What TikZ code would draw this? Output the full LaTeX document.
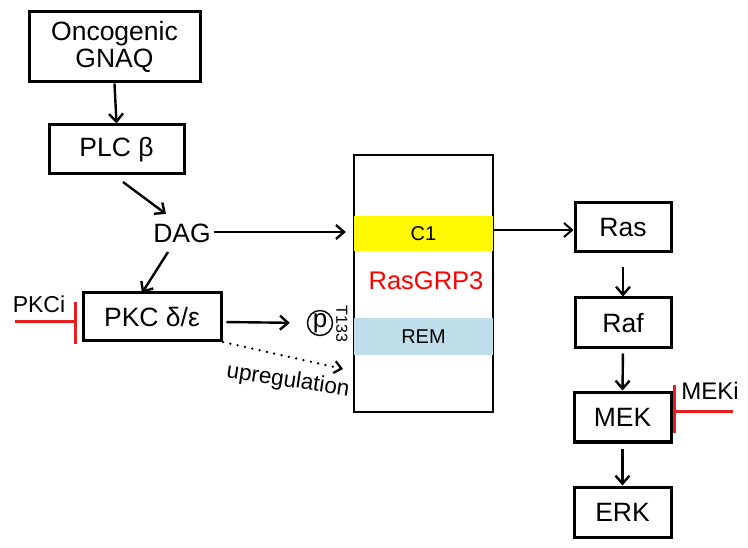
\documentclass[tikz,border=0pt]{standalone}
\usepackage{fontspec}
\setmainfont{Liberation Sans}
\usetikzlibrary{arrows.meta}
\definecolor{remblue}{RGB}{190,223,234}
\definecolor{cyel}{RGB}{255,250,0}
\definecolor{inhred}{RGB}{232,30,30}
\begin{document}
\begin{tikzpicture}[x=1pt,y=-1pt,
  pbox/.style={draw=black,line width=3pt,inner sep=0pt,font=\fontsize{26.5}{30}\selectfont,align=center},
  arr/.style={line width=2.4pt,-{Straight Barb[length=8pt,width=14pt,line width=2.4pt]}},
  inh/.style={draw=inhred,line width=3pt},
  band/.style={inner sep=0pt,minimum width=139pt,font=\fontsize{20}{22}\selectfont}]
\useasboundingbox (0,0) rectangle (748,548);
% left column
\node[pbox,minimum width=171pt,minimum height=70pt] (gnaq) at (114.5,47) {Oncogenic\\[-3pt]GNAQ};
\node[pbox,minimum width=135pt,minimum height=49pt] (plc) at (116.5,149.5) {PLC β};
\node[font=\fontsize{26.5}{30}\selectfont,inner sep=0pt] (dag) at (182,233) {DAG};
\node[pbox,minimum width=138pt,minimum height=48pt] (pkc) at (152,317) {PKC δ/ε};
% RasGRP3
\node[draw=black,line width=1.4pt,minimum width=139pt,minimum height=257pt,inner sep=0pt] (grp) at (423.5,283.5) {};
\node[band,fill=cyel,minimum height=35pt] (c1) at (423.5,233.5) {C1};
\node[band,fill=remblue,minimum height=37pt] (rem) at (423.5,336.5) {REM};
\node[text=red,font=\fontsize{25.5}{28}\selectfont,inner sep=0pt] (rgtxt) at (426,281) {RasGRP3};
% right column
\node[pbox,minimum width=96pt,minimum height=49pt] (ras) at (623,227.5) {Ras};
\node[pbox,minimum width=96pt,minimum height=50pt] (raf) at (623,323) {Raf};
\node[pbox,minimum width=97pt,minimum height=49pt] (mek) at (622.5,417.5) {MEK};
\node[pbox,minimum width=97pt,minimum height=50pt] (erk) at (622.5,512) {ERK};
% phospho
\node[draw=black,line width=1.4pt,circle,minimum size=25pt,inner sep=0pt,font=\fontsize{26}{26}\selectfont] (p) at (320,323) {\raisebox{2pt}{p}};
\node[rotate=-90,font=\fontsize{16}{18}\selectfont,inner sep=0pt] (t133) at (342,324) {T133};
% labels
\node[font=\fontsize{23}{26}\selectfont,inner sep=0pt] (pkci) at (39,304) {PKCi};
\node[font=\fontsize{24}{26}\selectfont,inner sep=0pt] (meki) at (710,391) {MEKi};
\node[rotate=-8.5,font=\fontsize{22.5}{24}\selectfont,inner sep=0pt] (upr) at (288,381) {upregulation};
% helper coordinates
\coordinate (plcout) at (123,182);
\coordinate (dagin) at (166,214);
\coordinate (dagdn) at (168,252);
\coordinate (pkcin) at (142,293);
\coordinate (pkcr) at (223,342);
\coordinate (upend) at (343,369);
\coordinate (pkcinh) at (15,322);
\coordinate (pkcbar) at (75,322);
\coordinate (mekinh) at (733,412);
\coordinate (mekbar) at (674,412);
% arrows
\draw[arr] (gnaq.south) -- (plc.north);
\draw[arr] (plcout) -- (dagin);
\draw[arr] (dagdn) -- (pkcin);
\draw[arr,shorten <=3pt,shorten >=8pt] (dag.east |- 0,232) -- (c1.west |- 0,232);
\draw[line width=2pt,-{Straight Barb[length=8pt,width=14pt,line width=2pt]}] (c1.east |- 0,230) -- (ras.west |- 0,230);
\draw[arr,shorten <=4pt,shorten >=17pt] (pkc.east |- 0,322) -- (p.west);
\draw[line width=2.6pt,line cap=round,dash pattern=on 0pt off 7.5pt,-{Straight Barb[length=7pt,width=12pt,line width=2.2pt,line cap=butt]}] (pkcr) -- (upend);
\draw[arr,shorten <=14pt] (ras.south) -- (raf.north);
\draw[arr,shorten <=4pt,shorten >=1pt] (raf.south) -- (mek.north);
\draw[arr,shorten <=5pt] (mek.south) -- (erk.north);
% inhibitors
\draw[inh] (pkcinh) -- (pkcbar);
\draw[inh] (75,302) -- (75,344);
\draw[inh] (mekinh) -- (mekbar);
\draw[inh] (674,385) -- (674,433);
\end{tikzpicture}
\end{document}
